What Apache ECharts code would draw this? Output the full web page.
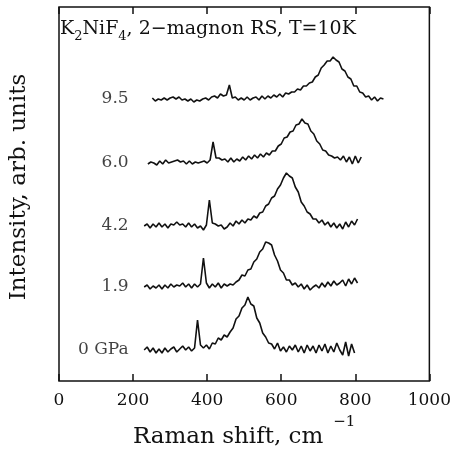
<!DOCTYPE html>
<html>
<head>
<meta charset="utf-8">
<script src="https://cdn.jsdelivr.net/npm/echarts@6.0.0/dist/echarts.min.js"></script>
<style>
    html, body { margin: 0; padding: 0; background: #fff; }
    #chart { width: 454px; height: 456px; }
</style>
</head>
<body>
<div id="chart"></div>
<script>
// pressure labels, bottom to top
const pressures = ['0 GPa', '1.9', '4.2', '6.0', '9.5'];
// first Raman shift of every spectrum (cm-1), spectra sampled every 8 cm-1
const shiftStart = [230, 230, 230, 240, 252];
const shiftStep = 8;
// vertical offset of every trace (arb. units)
const traceOffset = [31, 94, 155, 218, 282];
const xTicks = [0, 200, 400, 600, 800, 1000];

// intensities above the trace offset
const spec0 = [
    0, 3, -2, 2, -3, 1, -3, 2, -2, 1,
    3, -2, 1, 4, 0, 3, -1, 2, 30, 5,
    2, 5, 1, 7, 6, 12, 10, 15, 13, 18,
    22, 31, 34, 42, 45, 53, 46, 44, 32, 27,
    17, 13, 7, 6, 1, 7, -1, 3, -2, 4,
    0, 5, -2, 4, -3, 5, -1, 4, -3, 5,
    -1, 6, -3, 4, -2, 7, 0, -5, 8, -6,
    6, -3
];
const spec19 = [
    0, 2, -2, 1, -1, 2, -2, 2, -1, 3,
    0, 2, 1, 4, 0, 3, -1, 3, 0, 3,
    29, 4, -1, 3, 0, 4, -1, 3, 1, 3,
    2, 5, 7, 12, 11, 17, 18, 25, 28, 35,
    38, 45, 44, 42, 32, 26, 17, 14, 7, 7,
    2, 4, 0, 3, -2, 2, -3, 0, 2, -1,
    4, 0, 5, 1, 6, 2, 4, 7, 1, 8,
    3, 9, 4
];
const spec42 = [
    0, 2, -2, 2, -1, 3, -1, 2, -2, 2,
    1, 4, 1, 2, -1, 3, -1, 2, -2, 0,
    -4, 1, 26, 3, 2, 0, 1, -3, -1, 3,
    0, 5, 2, 6, 3, 7, 6, 10, 8, 13,
    14, 20, 22, 28, 30, 37, 41, 48, 53, 50,
    48, 39, 34, 24, 20, 14, 12, 7, 7, 3,
    6, 1, 4, -1, 3, -2, 2, -3, 4, -1,
    5, 1, 7
];
const spec60 = [
    -1, 1, 0, -2, 2, -1, 3, 0, 1, 2,
    3, 1, 2, -1, 2, -1, 1, 0, 1, 2,
    0, 3, 21, 5, 5, 3, 4, 1, 5, 1,
    4, 2, 6, 3, 7, 4, 8, 5, 9, 6,
    10, 8, 12, 12, 17, 19, 25, 26, 31, 32,
    38, 39, 44, 40, 39, 32, 29, 22, 19, 13,
    12, 8, 7, 5, 6, 3, 7, 1, 6, -1,
    7, 0, 6
];
const spec95 = [
    1, -2, 0, -1, 1, -1, 1, 2, 0, 2,
    -1, 0, -2, 0, -3, -1, -2, 0, 1, -1,
    2, 3, 1, 5, 3, 4, 14, 1, 2, -1,
    1, -1, 2, -1, 1, 2, -1, 3, 0, 3,
    1, 4, 2, 5, 2, 6, 5, 7, 7, 10,
    9, 13, 13, 16, 17, 22, 24, 31, 34, 38,
    38, 42, 39, 37, 30, 28, 22, 20, 13, 13,
    7, 6, 2, 3, -1, 2, -2, 1, 0
];
const spectra = [spec0, spec19, spec42, spec60, spec95];

const serif = '"DejaVu Serif", "Liberation Serif", serif';
const ink = '#111';

let chart = echarts.init(document.getElementById('chart'), null, {renderer: 'canvas'});

// every spectrum becomes one line series, shifted by its offset
let lineSeries = spectra.map((vals, k) => {
    return {
        name: pressures[k],
        type: 'line',
        showSymbol: false,
        symbol: 'none',
        animation: false,
        lineStyle: {color: ink, width: 1.6},
        data: vals.map((v, i) => [shiftStart[k] + i * shiftStep, traceOffset[k] + v])
    };
});

// pressure labels sit left of each trace
let labelSeries = {
    type: 'scatter',
    symbolSize: 0,
    animation: false,
    silent: true,
    label: {
        show: true,
        position: 'left',
        distance: 0,
        formatter: (p) => p.data[2],
        fontFamily: serif,
        fontSize: 17,
        color: ink
    },
    data: pressures.map((p, k) => [188, traceOffset[k], p])
};

let option = {
    backgroundColor: '#fff',
    animation: false,
    title: {
        left: 60,
        top: 16,
        padding: 0,
        text: '{m|K}{b|2}{m|NiF}{b|4}{m|, 2\u2212magnon RS, T=10K}',
        textStyle: {
            fontWeight: 'normal',
            rich: {
                m: {fontFamily: serif, fontSize: 19, fontWeight: 'normal', color: ink},
                b: {fontFamily: serif, fontSize: 13, fontWeight: 'normal', color: ink, padding: [14, 0, 0, 0]}
            }
        }
    },
    grid: {
        left: 58,
        right: 24,
        top: 7,
        bottom: 75,
        show: true,
        borderColor: ink,
        borderWidth: 1.5,
        backgroundColor: 'transparent'
    },
    xAxis: [{
        type: 'value',
        min: xTicks[0],
        max: xTicks[xTicks.length - 1],
        interval: xTicks[1] - xTicks[0],
        name: '{a|Raman shift, cm}{s|\u22121}',
        nameLocation: 'middle',
        nameGap: 34,
        nameMoveOverlap: false,
        nameTextStyle: {
            rich: {
                a: {fontFamily: serif, fontSize: 23, color: ink},
                s: {fontFamily: serif, fontSize: 15, color: ink, padding: [0, 0, 30, 10]}
            }
        },
        axisLine: {show: false},
        axisTick: {show: true, inside: true, length: 7, lineStyle: {color: ink, width: 1.5}},
        axisLabel: {fontFamily: serif, fontSize: 17, color: ink, margin: 11, formatter: (v) => String(v)},
        splitLine: {show: false}
    }, {
        type: 'value',
        position: 'top',
        min: xTicks[0],
        max: xTicks[xTicks.length - 1],
        interval: xTicks[1] - xTicks[0],
        axisLine: {show: false},
        axisTick: {show: true, inside: true, length: 7, lineStyle: {color: ink, width: 1.5}},
        axisLabel: {show: false},
        splitLine: {show: false}
    }],
    yAxis: {
        type: 'value',
        min: 0,
        max: 374,
        name: 'Intensity, arb. units',
        nameLocation: 'middle',
        nameGap: 28,
        nameMoveOverlap: false,
        nameTextStyle: {fontFamily: serif, fontSize: 23, color: ink, padding: [0, 0, 0, 14]},
        axisLine: {show: false},
        axisTick: {show: false},
        axisLabel: {show: false},
        splitLine: {show: false}
    },
    series: lineSeries.concat([labelSeries])
};

chart.setOption(option);
</script>
</body>
</html>
